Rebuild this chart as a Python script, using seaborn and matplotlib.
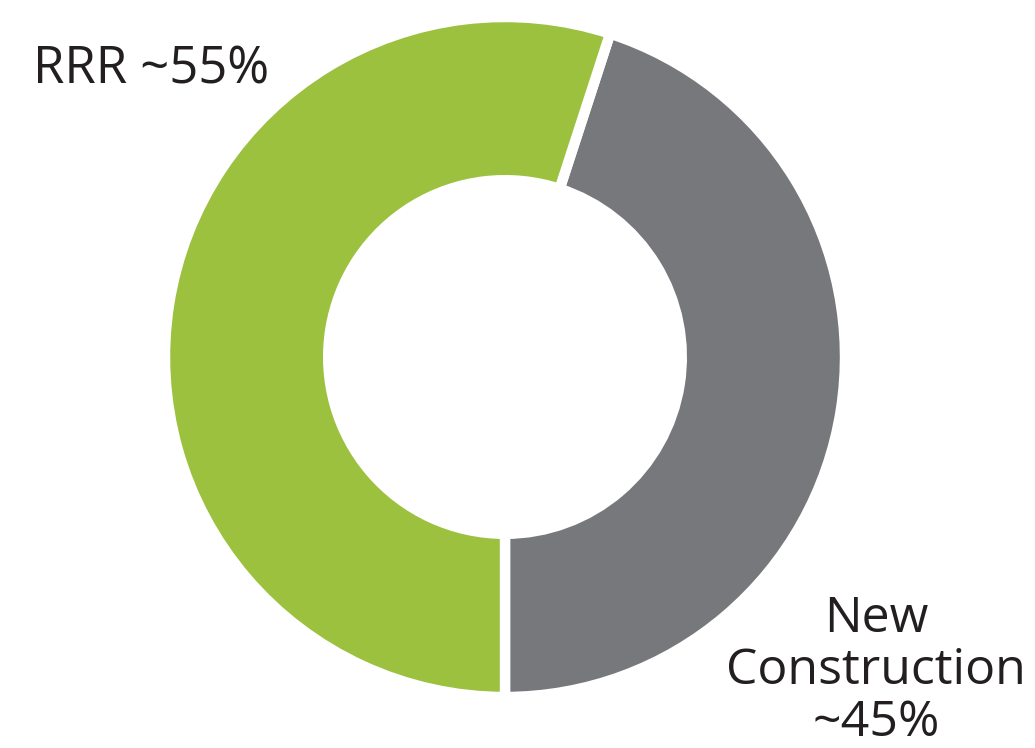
import matplotlib
matplotlib.use("Agg")
import matplotlib.pyplot as plt
import seaborn as sns

categories = ["New Construction", "RRR"]
shares = [45, 55]
labels = ["New\nConstruction\n~45%", "RRR ~55%"]
colors = ["#77787B", "#9BC13F"]

sns.set_theme(style="white")
plt.rcParams["font.family"] = ["Open Sans", "DejaVu Sans"]

fig = plt.figure(figsize=(10.35, 7.48), dpi=100)
ax = fig.add_axes([0, 0, 1, 1])

ax.pie(shares, colors=colors, startangle=-90, counterclock=True,
       radius=1.0,
       wedgeprops=dict(width=0.48, edgecolor="white", linewidth=7.5))

# 1 data unit = 340 px; donut centred at pixel (505, 357)
scale = 340.0
cx, cy = 505.0, 357.0
ax.set_xlim(-cx / scale, (1035 - cx) / scale)
ax.set_ylim(-(748 - cy) / scale, cy / scale)
ax.set_aspect("equal")
ax.axis("off")

ax.text((33 - cx) / scale, (cy - 83) / scale, labels[1],
        ha="left", va="baseline", fontsize=36.5, color="#231F20")
ax.text((876 - cx) / scale, (cy - 736) / scale, labels[0],
        ha="center", va="baseline", fontsize=36, color="#231F20",
        linespacing=1.07)

fig.savefig("out.png", dpi=100)
